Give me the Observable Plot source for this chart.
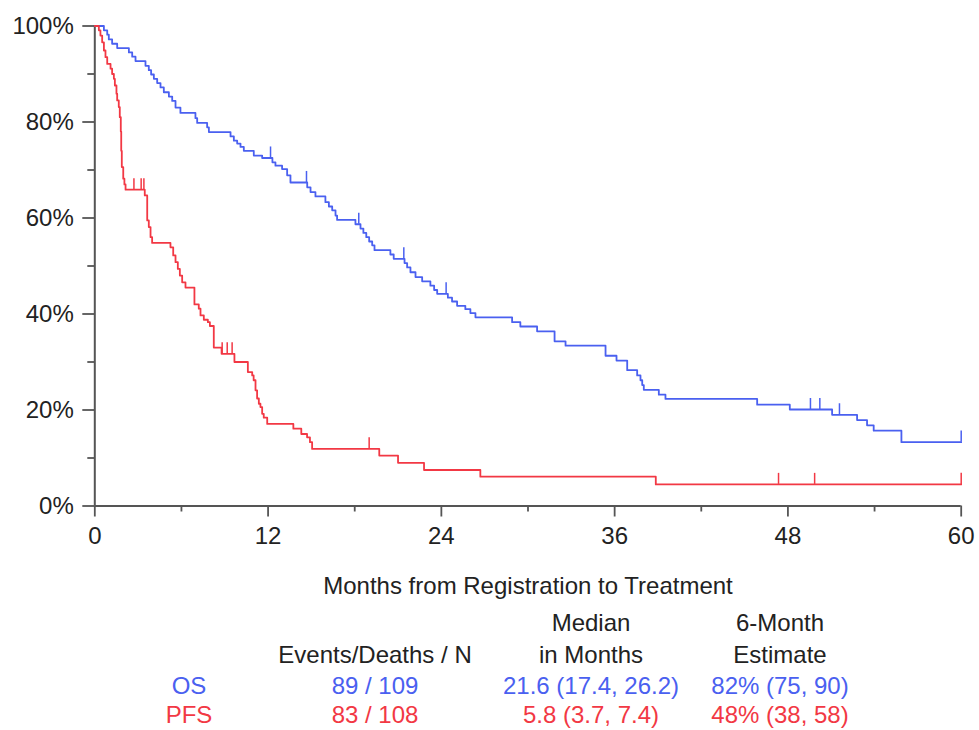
<!DOCTYPE html>
<html><head><meta charset="utf-8">
<script src="https://cdn.jsdelivr.net/npm/d3@7"></script>
<script src="https://cdn.jsdelivr.net/npm/@observablehq/plot@0.6"></script>
<style>
body{margin:0;background:#fff;font-family:"Liberation Sans",Arial,sans-serif;}
#wrap{position:relative;width:979px;height:730px;overflow:hidden;}
#chart{position:absolute;left:0;top:0;}
.t{position:absolute;transform:translate(-50%,-50%);white-space:nowrap;font-size:24px;line-height:1;color:#222;}
</style></head><body><div id="wrap"><div id="chart"></div></div>
<script>
// ---- data ----
const osTime = [0, 0.63, 0.86, 0.97, 1.2, 1.55, 2.36, 2.59, 2.82, 3.51, 3.74, 3.9, 4.09, 4.32, 4.55, 4.78, 5.13, 5.36, 5.59, 5.93, 6.97, 7.09, 7.78, 7.9, 9.4, 9.63, 9.86, 10.09, 10.32, 11.01, 11.59, 12.3, 12.51, 12.97, 13.32, 13.55, 14.71, 14.94, 15.28, 15.97, 16.21, 16.44, 16.67, 16.78, 18.05, 18.4, 18.6, 18.8, 19.0, 19.21, 19.37, 20.47, 20.7, 21.45, 21.63, 21.86, 22.21, 22.67, 23.24, 23.5, 23.71, 24.45, 24.74, 25.09, 25.66, 26.01, 26.36, 28.9, 29.47, 30.63, 31.84, 32.6, 35.37, 36.13, 36.87, 37.56, 37.79, 37.91, 38.02, 39.06, 39.52, 45.87, 48.13, 51.06, 52.79, 53.48, 53.94, 55.86];
const osSurv = [100, 99.1, 98.2, 97.2, 96.3, 95.4, 94.5, 93.6, 92.7, 91.7, 90.8, 89.9, 89.0, 88.1, 87.2, 86.2, 85.3, 84.4, 83.0, 81.9, 80.8, 79.8, 78.9, 77.9, 77.0, 76.1, 75.5, 74.8, 74.0, 73.0, 72.5, 71.6, 70.9, 70.2, 68.9, 67.4, 66.4, 65.4, 64.5, 63.3, 62.4, 61.6, 60.5, 59.6, 58.7, 57.8, 56.9, 56.0, 55.1, 54.3, 53.3, 52.4, 51.5, 50.6, 49.7, 48.7, 47.7, 46.8, 45.9, 45.0, 44.2, 43.4, 42.6, 41.7, 41.0, 40.2, 39.3, 38.3, 37.4, 36.4, 34.3, 33.4, 31.3, 30.3, 28.3, 27.2, 26.2, 25.2, 24.2, 23.2, 22.3, 21.1, 20.1, 19.0, 17.9, 16.8, 15.7, 13.3];
const osCensor = [12.17, 14.66, 18.28, 21.4, 24.33, 49.56, 50.21, 51.57, 60];

const pfsTime = [0, 0.28, 0.39, 0.51, 0.63, 0.74, 0.86, 1.09, 1.2, 1.32, 1.39, 1.5, 1.55, 1.66, 1.73, 1.8, 1.83, 1.87, 1.97, 2.05, 2.13, 3.46, 3.63, 3.74, 3.86, 3.97, 5.24, 5.43, 5.59, 5.75, 5.89, 6.05, 6.28, 6.9, 7.2, 7.32, 7.55, 7.83, 7.97, 8.24, 8.78, 9.67, 10.6, 10.9, 11.0, 11.13, 11.24, 11.36, 11.47, 11.59, 11.7, 11.94, 13.75, 14.3, 14.7, 14.9, 15.05, 19.7, 21.0, 22.8, 26.7, 38.85];
const pfsSurv = [100, 99.1, 98.0, 96.6, 94.9, 93.5, 92.1, 91.1, 90.0, 89.0, 87.6, 85.9, 84.5, 83.1, 81.0, 78.0, 74.0, 70.6, 68.2, 67.0, 65.9, 64.7, 59.5, 58.1, 56.0, 54.8, 53.9, 52.2, 50.8, 49.4, 48.0, 46.6, 45.5, 42.0, 41.1, 39.7, 38.8, 38.3, 37.5, 33.0, 31.7, 30.0, 27.9, 27.2, 26.2, 24.1, 22.4, 21.3, 20.6, 19.2, 18.4, 17.1, 16.1, 15.0, 14.3, 13.3, 11.9, 10.5, 9.0, 7.5, 6.1, 4.5];
const pfsCensor = [2.71, 3.21, 3.4, 8.82, 9.17, 9.51, 19.0, 47.35, 49.85, 60];

const xMajor = [0, 12, 24, 36, 48, 60];
const xMinor = [6, 18, 30, 42, 54];
const yMajor = [0, 20, 40, 60, 80, 100];
const yMinor = [10, 30, 50, 70, 90];
const xLabel = "Months from Registration to Treatment";

const seriesNames = ["OS", "PFS"];
const eventsN = ["89 / 109", "83 / 108"];
const medians = ["21.6 (17.4, 26.2)", "5.8 (3.7, 7.4)"];
const estimates = ["82% (75, 90)", "48% (38, 58)"];
const headTop = ["", "", "Median", "6-Month"];
const headBottom = ["", "Events/Deaths / N", "in Months", "Estimate"];

// ---- styles ----
const colors = {OS: "#4a60f0", PFS: "#f23844"};
const axisColor = "#555";
const textColor = "#222";
const endTime = 60;

function steps(name, times, survs) {
  const rows = times.map((t, i) => ({series: name, t, s: survs[i]}));
  rows.push({series: name, t: endTime, s: survs[survs.length - 1]});
  return rows;
}
function survAt(times, survs, t) {
  let s = survs[0];
  for (let i = 0; i < times.length; i++) if (times[i] <= t) s = survs[i];
  return s;
}
function censors(name, cens, times, survs) {
  return cens.map(t => ({series: name, t, s: survAt(times, survs, t)}));
}

const lines = [...steps("OS", osTime, osSurv), ...steps("PFS", pfsTime, pfsSurv)];
const marks = [...censors("OS", osCensor, osTime, osSurv), ...censors("PFS", pfsCensor, pfsTime, pfsSurv)];
const tickH = 2.3;

const chart = Plot.plot({
  width: 979,
  height: 606,
  marginLeft: 94.3,
  marginRight: 18.3,
  marginTop: 25.5,
  marginBottom: 100.5,
  style: {fontFamily: "'Liberation Sans', Arial, sans-serif", fontSize: "24px", color: textColor, background: "#fff"},
  x: {domain: [0, 60]},
  y: {domain: [0, 100]},
  marks: [
    Plot.axisY(yMajor, {tickSize: 12, tickPadding: 9, tickFormat: d => d + "%", stroke: axisColor, strokeWidth: 1.8, fontSize: 24, fill: textColor, label: null}),
    Plot.axisY(yMinor, {tickSize: 7, tickFormat: () => "", stroke: axisColor, strokeWidth: 1.8, label: null}),
    Plot.axisX(xMajor, {tickSize: 11, tickPadding: 10, stroke: axisColor, strokeWidth: 1.8, fontSize: 24, fill: textColor, label: xLabel, labelAnchor: "center", labelOffset: 88, labelArrow: "none"}),
    Plot.axisX(xMinor, {tickSize: 6, tickFormat: () => "", stroke: axisColor, strokeWidth: 1.8, label: null}),
    Plot.ruleX([0], {stroke: axisColor, strokeWidth: 2}),
    Plot.ruleY([0], {stroke: axisColor, strokeWidth: 2}),
    Plot.line(lines, {x: "t", y: "s", z: "series", stroke: d => colors[d.series], curve: "step-after", strokeWidth: 1.8}),
    Plot.ruleX(marks, {x: "t", y1: "s", y2: d => d.s + tickH, stroke: d => colors[d.series], strokeWidth: 1.5})
  ]
});
document.getElementById("chart").appendChild(chart);

// ---- summary table below the chart ----
const wrap = document.getElementById("wrap");
const colX = [189, 375, 591, 780];
const rowY = [623, 655, 686, 715];
function put(text, x, y, color) {
  if (!text) return;
  const el = document.createElement("div");
  el.className = "t";
  el.textContent = text;
  el.style.left = x + "px";
  el.style.top = y + "px";
  if (color) el.style.color = color;
  wrap.appendChild(el);
}
headTop.forEach((h, i) => put(h, colX[i], rowY[0]));
headBottom.forEach((h, i) => put(h, colX[i], rowY[1]));
seriesNames.forEach((n, r) => {
  const c = colors[n];
  put(n, colX[0], rowY[2 + r], c);
  put(eventsN[r], colX[1], rowY[2 + r], c);
  put(medians[r], colX[2], rowY[2 + r], c);
  put(estimates[r], colX[3], rowY[2 + r], c);
});
</script></body></html>
